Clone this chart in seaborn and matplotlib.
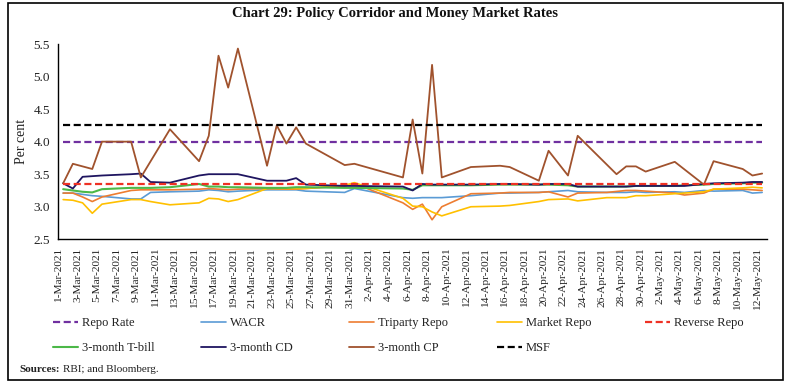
import matplotlib
matplotlib.use("Agg")
import matplotlib.pyplot as plt
from matplotlib.patches import Rectangle
import seaborn as sns
import pandas as pd

# ---------------- data ----------------
dates = ['2021-03-01', '2021-03-02', '2021-03-03', '2021-03-04', '2021-03-05', '2021-03-08',
         '2021-03-09', '2021-03-10', '2021-03-12', '2021-03-15', '2021-03-16', '2021-03-17',
         '2021-03-18', '2021-03-19', '2021-03-22', '2021-03-24', '2021-03-25', '2021-03-26',
         '2021-03-30', '2021-03-31', '2021-04-05', '2021-04-06', '2021-04-07', '2021-04-08',
         '2021-04-09', '2021-04-12', '2021-04-15', '2021-04-16', '2021-04-19', '2021-04-20',
         '2021-04-22', '2021-04-23', '2021-04-26', '2021-04-28', '2021-04-29', '2021-04-30',
         '2021-05-03', '2021-05-04', '2021-05-06', '2021-05-07', '2021-05-10', '2021-05-11',
         '2021-05-12']

wacr = [3.21, 3.21, 3.19, 3.17, 3.16, 3.12, 3.12, 3.22, 3.23, 3.24, 3.26, 3.25, 3.23, 3.24,
        3.26, 3.26, 3.26, 3.24, 3.22, 3.28, 3.14, 3.13, 3.14, 3.14, 3.14, 3.17, 3.21, 3.21,
        3.22, 3.23, 3.25, 3.23, 3.22, 3.22, 3.23, 3.22, 3.23, 3.22, 3.25, 3.24, 3.25, 3.21, 3.22]

triparty = [3.21, 3.21, 3.15, 3.08, 3.15, 3.25, 3.26, 3.26, 3.26, 3.27, 3.28, 3.27, 3.26, 3.27,
            3.28, 3.27, 3.27, 3.28, 3.32, 3.36, 3.06, 2.96, 3.04, 2.80, 3.00, 3.20, 3.21, 3.22,
            3.22, 3.23, 3.15, 3.21, 3.22, 3.25, 3.25, 3.24, 3.21, 3.18, 3.21, 3.27, 3.27, 3.26, 3.25]

market_repo = [3.11, 3.10, 3.06, 2.90, 3.04, 3.11, 3.11, 3.08, 3.03, 3.06, 3.13, 3.12, 3.08, 3.11,
               3.28, 3.28, 3.28, 3.28, 3.33, 3.37, 3.13, 3.01, 3.00, 2.92, 2.86, 3.00, 3.01, 3.02,
               3.08, 3.11, 3.12, 3.09, 3.14, 3.14, 3.17, 3.17, 3.20, 3.21, 3.23, 3.27, 3.29, 3.30, 3.29]

tbill = [3.27, 3.25, 3.23, 3.22, 3.27, 3.29, 3.29, 3.29, 3.30, 3.35, 3.31, 3.31, 3.30, 3.30,
         3.29, 3.29, 3.30, 3.30, 3.29, 3.29, 3.28, 3.26, 3.33, 3.33, 3.33, 3.33, 3.34, 3.34,
         3.34, 3.34, 3.33, 3.31, 3.31, 3.31, 3.32, 3.32, 3.32, 3.33, 3.34, 3.35, 3.36, 3.37, 3.37]

cd = [3.36, 3.28, 3.46, 3.47, 3.48, 3.50, 3.51, 3.38, 3.37, 3.48, 3.50, 3.50, 3.50, 3.50,
      3.40, 3.40, 3.44, 3.34, 3.32, 3.32, 3.31, 3.25, 3.35, 3.34, 3.34, 3.34, 3.35, 3.35,
      3.34, 3.35, 3.35, 3.31, 3.31, 3.31, 3.32, 3.32, 3.32, 3.32, 3.35, 3.36, 3.37, 3.38, 3.38]

cp_dates = ['2021-03-01', '2021-03-02', '2021-03-04', '2021-03-05', '2021-03-08', '2021-03-09',
            '2021-03-12', '2021-03-15', '2021-03-16', '2021-03-17', '2021-03-18', '2021-03-19',
            '2021-03-22', '2021-03-23', '2021-03-24', '2021-03-25', '2021-03-26', '2021-03-30',
            '2021-03-31', '2021-04-05', '2021-04-06', '2021-04-07', '2021-04-08', '2021-04-09',
            '2021-04-12', '2021-04-15', '2021-04-16', '2021-04-19', '2021-04-20', '2021-04-22',
            '2021-04-23', '2021-04-27', '2021-04-28', '2021-04-29', '2021-04-30', '2021-05-03',
            '2021-05-06', '2021-05-07', '2021-05-10', '2021-05-11', '2021-05-12']
cp = [3.36, 3.66, 3.58, 4.00, 4.00, 3.45, 4.19, 3.70, 4.09, 5.32, 4.83, 5.43, 3.63, 4.25,
      3.97, 4.22, 3.97, 3.64, 3.66, 3.45, 4.34, 3.51, 5.18, 3.45, 3.61, 3.63, 3.61, 3.40,
      3.86, 3.48, 4.09, 3.50, 3.62, 3.62, 3.54, 3.69, 3.34, 3.70, 3.58, 3.48, 3.51]

policy_dates = ['2021-03-01', '2021-05-12']
repo_rate = [4.00, 4.00]
reverse_repo = [3.35, 3.35]
msf = [4.25, 4.25]

tick_start, tick_end, axis_end = '2021-03-01', '2021-05-12', '2021-05-13'

# ---------------- style ----------------
sns.set_style("white")
plt.rcParams['font.family'] = ['Liberation Serif', 'DejaVu Serif']
plt.rcParams['axes.linewidth'] = 1.0

fig = plt.figure(figsize=(7.89, 3.89), dpi=100)
W, H = 789, 389
ax = fig.add_axes([58.3 / W, 1 - 239.3 / H, (767 - 58.3) / W, (239.3 - 44) / H])

DASH = (0, (3.2, 1.6))
series = [
    ("Repo Rate", policy_dates, repo_rate, "#7030A0", DASH, 1.6),
    ("WACR", dates, wacr, "#5B9BD5", "-", 1.2),
    ("Triparty Repo", dates, triparty, "#ED7D31", "-", 1.2),
    ("Market Repo", dates, market_repo, "#FFC000", "-", 1.2),
    ("3-month T-bill", dates, tbill, "#4CB848", "-", 1.5),
    ("3-month CD", dates, cd, "#1F1560", "-", 1.3),
    ("3-month CP", cp_dates, cp, "#A0522D", "-", 1.3),
    ("Reverse Repo", policy_dates, reverse_repo, "#EE3124", DASH, 1.6),
    ("MSF", policy_dates, msf, "#000000", DASH, 1.6),
]

handles = {}
for name, d, v, c, ls, lw in series:
    # each observation is centred within its day on the date axis
    x = pd.to_datetime(d) + pd.Timedelta(hours=12)
    df = pd.DataFrame({"date": x, "value": v})
    sns.lineplot(data=df, x="date", y="value", color=c, linestyle=ls, linewidth=lw,
                 estimator=None, sort=True, legend=False, ax=ax)
    handles[name] = ax.lines[-1]

# axes formatting
ax.set_xlim(pd.Timestamp(tick_start), pd.Timestamp(axis_end))
ax.set_ylim(2.5, 5.5)
yt = [2.5, 3.0, 3.5, 4.0, 4.5, 5.0, 5.5]
ax.set_yticks(yt)
ax.set_yticklabels([f"{t:.1f}" for t in yt])
ticks = pd.date_range(tick_start, tick_end, freq='2D')
ax.set_xticks(ticks)
ax.set_xticklabels([f"{t.day}-{t.strftime('%b')}-{t.year}" for t in ticks], rotation=90)
ax.tick_params(axis='both', which='major', direction='out', length=4, width=1,
               color='black', labelcolor='#222222', pad=2)
ax.tick_params(axis='x', labelsize=8.2)
ax.tick_params(axis='y', labelsize=9.5)
for s in ['top', 'right']:
    ax.spines[s].set_visible(False)
for s in ['left', 'bottom']:
    ax.spines[s].set_color('black')
ax.set_xlabel("")
ax.set_ylabel("Per cent", fontsize=10, color='#222222')
ax.yaxis.set_label_coords((28 - 58.3) / (767 - 58.3), 0.5)

# title
fig.text(0.5, 1 - 14 / H, "Chart 29: Policy Corridor and Money Market Rates",
         ha='center', va='center', fontsize=10.5, fontweight='bold', color='#111111')

# legend: five columns of fixed spacing
columns = [["Repo Rate", "3-month T-bill"], ["WACR", "3-month CD"],
           ["Triparty Repo", "3-month CP"], ["Market Repo", "MSF"], ["Reverse Repo"]]
col_x = [53, 201, 349, 497, 645]
for cx, names in zip(col_x, columns):
    fig.legend([handles[n] for n in names], names, loc='upper left',
               bbox_to_anchor=(cx / W, 1 - 317 / H), bbox_transform=fig.transFigure,
               frameon=False, fontsize=9, handlelength=2.0, handletextpad=0.3,
               borderpad=0, borderaxespad=0, labelspacing=1.05, labelcolor='#222222')

# source note
t1 = fig.text(19 / W, 1 - 369 / H, "Sources:", fontsize=8, fontweight='bold',
              va='center', ha='left', color='#222222')
fig.canvas.draw()
bb = t1.get_window_extent()
fig.text((bb.x1 + 3) / W, 1 - 369 / H, "RBI; and Bloomberg.", fontsize=8,
         va='center', ha='left', color='#222222')

# outer frame
fig.add_artist(Rectangle((8 / W, 1 - 380 / H), (783 - 8) / W, (380 - 3) / H,
                         transform=fig.transFigure, fill=False, ec='black', lw=1.2))

fig.savefig("out.png", dpi=100)
